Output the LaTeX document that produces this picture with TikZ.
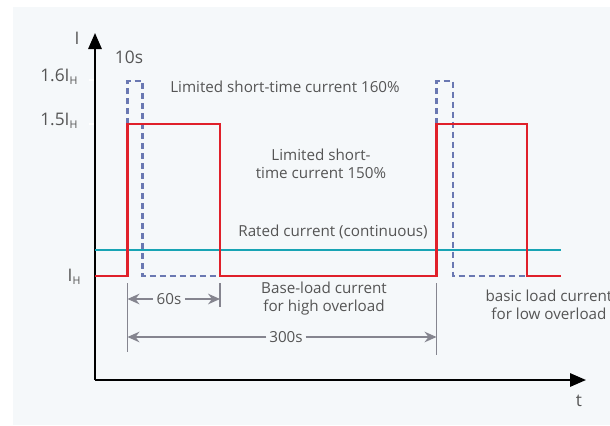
\documentclass[tikz,border=0pt]{standalone}
\usepackage{fontspec}
\setmainfont{Open Sans}
\usetikzlibrary{arrows.meta}
\definecolor{panel}{HTML}{F5F8FA}
\definecolor{loadred}{HTML}{E0202A}
\definecolor{peakblue}{HTML}{6A78B2}
\definecolor{ratedteal}{HTML}{18A4B4}
\definecolor{dimgray}{HTML}{85858F}
\definecolor{txt}{HTML}{555555}
\newcommand{\subH}{\raisebox{-2.5pt}{\fontsize{8}{8}\selectfont H}}
\tikzset{
  axisline/.style={line width=1.5pt, black, -{Triangle[length=12pt,width=10pt]}},
  redload/.style={line width=1.8pt, loadred, line join=miter},
  bluepeak/.style={line width=1.8pt, peakblue, dash pattern=on 4.5pt off 3pt},
  tealrated/.style={line width=1.8pt, ratedteal},
  extline/.style={line width=1.2pt, dimgray},
  dimarrow/.style={line width=1.2pt, dimgray, -{Stealth[length=9pt,width=8pt,inset=3pt]}},
  lbl/.style={text=txt, font=\fontsize{11.4}{13.5}\selectfont, inner sep=1pt, align=center},
  biglbl/.style={text=txt, font=\fontsize{13}{15}\selectfont, inner sep=1pt},
  tick/.style={line width=1.2pt, white},
}
\begin{document}
\begin{tikzpicture}[x=0.75pt, y=-0.75pt]
\useasboundingbox (0,0) rectangle (610,425);
\fill[panel] (13,7) rectangle (610,425);

% axes
\coordinate (O) at (95,380);
\coordinate (ytip) at (95,33);
\coordinate (xtip) at (586,380);
\draw[axisline] (O) -- (ytip);
\draw[axisline] (O) -- (xtip);
\node[biglbl] (Ilab) at (77,38) {I};
\node[biglbl] (tlab) at (579,401) {t};

% tick labels
\draw[tick] (89,80) -- (94,80);
\draw[tick] (89,124) -- (94,124);
\node[biglbl, anchor=east] (l16) at (79,77) {1.6I\subH};
\node[biglbl, anchor=east] (l15) at (79,121) {1.5I\subH};
\node[biglbl, anchor=east] (lh) at (82,277) {I\subH};
\node[biglbl] (ten) at (129,57) {10s};

% rated current
\draw[tealrated] (95,250) -- (561,250);

% 160% peaks (dashed)
\draw[bluepeak] (127.5,124) -- (127.5,81) -- (142.5,81) -- (142.5,276) -- (220,276);
\draw[bluepeak] (436.5,124) -- (436.5,81) -- (453,81) -- (453,276) -- (527,276);

% 150% load cycle
\draw[redload] (95,276) -- (127.5,276) -- (127.5,124) -- (220,124) -- (220,276)
  -- (436.5,276) -- (436.5,124) -- (527,124) -- (527,276) -- (561,276);

% texts
\node[lbl] (t160) at (285,87) {Limited short-time current 160\%};
\node[lbl] (t150) at (321,164) {Limited short-\\time current 150\%};
\node[lbl] (trated) at (333,232) {Rated current (continuous)};
\node[lbl] (tbase) at (324,299) {Base-load current\\for high overload};
\node[lbl, anchor=west] (tlow) at (484,305) {basic load current\\for low overload};

% dimension lines
\draw[extline] (127.5,283) -- (127.5,352);
\draw[extline] (220,283) -- (220,307);
\draw[extline] (436.5,283) -- (436.5,355);
\node[lbl, inner sep=2.5pt] (d60) at (169,299) {60s};
\draw[dimarrow] (d60.west) -- (127.5,299);
\draw[dimarrow] (d60.east) -- (220,299);
\node[lbl, inner sep=2pt] (d300) at (286,337) {300s};
\draw[dimarrow] (d300.west) -- (127.5,337);
\draw[dimarrow] (d300.east) -- (436.5,337);
\end{tikzpicture}
\end{document}
